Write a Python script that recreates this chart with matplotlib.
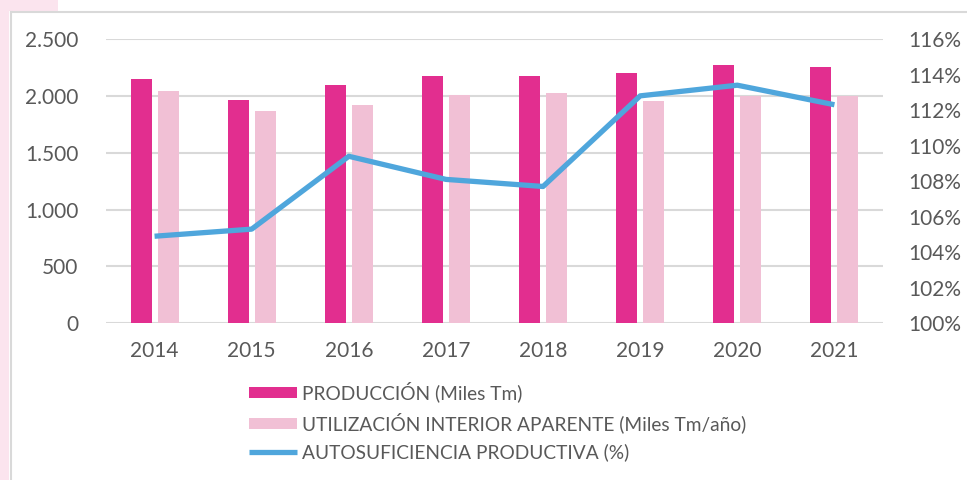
import matplotlib
matplotlib.use("Agg")
import matplotlib.pyplot as plt
from matplotlib.ticker import FuncFormatter, MultipleLocator
from matplotlib.patches import Rectangle
from matplotlib.lines import Line2D
import numpy as np

plt.rcParams['font.family'] = ['Lato', 'DejaVu Sans']

years = ["2014", "2015", "2016", "2017", "2018", "2019", "2020", "2021"]
produccion = [2150, 1960, 2095, 2177, 2177, 2200, 2274, 2250]
utilizacion = [2045, 1869, 1919, 2010, 2021, 1951, 2001, 2001]
autosuficiencia = [104.9, 105.3, 109.4, 108.1, 107.7, 112.8, 113.4, 112.3]

labels = ["PRODUCCIÓN (Miles Tm)",
          "UTILIZACIÓN INTERIOR APARENTE (Miles Tm/año)",
          "AUTOSUFICIENCIA PRODUCTIVA (%)"]

c_prod = "#E22E8F"
c_util = "#F1C0D5"
c_line = "#4FA6DC"
c_text = "#595959"
c_grid = "#D9D9D9"

W, H = 967, 480
fig = plt.figure(figsize=(W / 100, H / 100), dpi=100)
fig.patch.set_facecolor("white")

# background frame decorations
fig.add_artist(Rectangle((0, 0), 9 / W, 1, transform=fig.transFigure,
                         facecolor="#FBE4EE", edgecolor="none", zorder=0))
fig.add_artist(Rectangle((0, 1 - 11 / H), 58 / W, 11 / H, transform=fig.transFigure,
                         facecolor="#FBE4EE", edgecolor="none", zorder=0))
fig.add_artist(Line2D([10.5 / W, 10.5 / W], [0, 1 - 12 / H], transform=fig.transFigure,
                      color=c_grid, lw=1.5, zorder=1))
fig.add_artist(Line2D([10.5 / W, 1], [1 - 12 / H, 1 - 12 / H], transform=fig.transFigure,
                      color=c_grid, lw=1.5, zorder=1))

ax = fig.add_axes([106 / W, 1 - 323.3 / H, (883 - 106) / W, (323.3 - 39) / H])
ax.set_facecolor("none")
x = np.arange(len(years))
bw = 0.216
off = 0.139
b1 = ax.bar(x - off, produccion, bw, color=c_prod, zorder=3, label=labels[0])
b2 = ax.bar(x + off, utilizacion, bw, color=c_util, zorder=3, label=labels[1])
ax.set_xlim(-0.5, len(years) - 0.5)
ax.set_ylim(0, 2500)
ax.yaxis.set_major_locator(MultipleLocator(500))
ax.yaxis.set_major_formatter(FuncFormatter(lambda v, p: f"{int(v):,}".replace(",", ".")))
ax.grid(axis="y", color=c_grid, lw=1.5, zorder=0)
ax.set_axisbelow(True)
for s in ax.spines.values():
    s.set_visible(False)
ax.set_xticks(x)
ax.set_xticklabels(years)
ax.tick_params(axis="both", length=0, colors=c_text, labelsize=15)
ax.tick_params(axis="y", pad=20)
ax.tick_params(axis="x", pad=13)

ax2 = ax.twinx()
ln, = ax2.plot(x, autosuficiencia, color=c_line, lw=3.8, solid_capstyle="butt",
               solid_joinstyle="round", zorder=4, label=labels[2])
ax2.set_ylim(100, 116)
ax2.yaxis.set_major_locator(MultipleLocator(2))
ax2.yaxis.set_major_formatter(FuncFormatter(lambda v, p: f"{int(round(v))}%"))
for s in ax2.spines.values():
    s.set_visible(False)
ax2.tick_params(axis="y", length=0, colors=c_text, labelsize=15, pad=18)

leg = fig.legend([b1, b2, ln], labels, loc="upper left",
                 bbox_to_anchor=(241 / W, 1 - 374 / H), frameon=False,
                 fontsize=13.8, labelcolor=c_text, handlelength=2.5,
                 handleheight=0.5, handletextpad=0.3, labelspacing=0.52,
                 borderaxespad=0)

fig.savefig("out.png", dpi=100, facecolor="white")
